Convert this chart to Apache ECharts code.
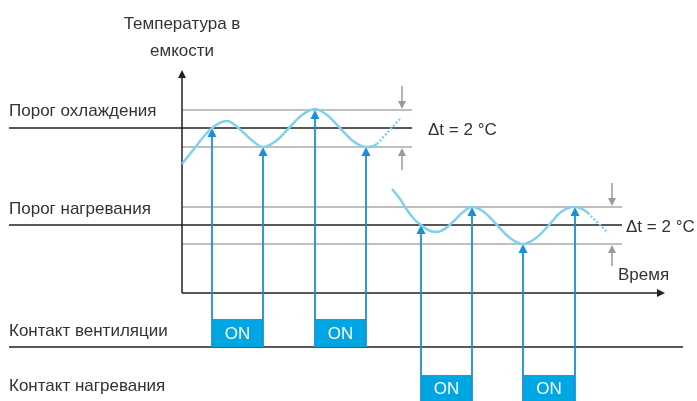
<!DOCTYPE html>
<html>
<head>
<meta charset="utf-8">
<script src="https://cdn.jsdelivr.net/npm/echarts@6/dist/echarts.min.js"></script>
<style>
  html, body { margin: 0; padding: 0; background: #fff; }
  #thermo { width: 697px; height: 401px; }
</style>
</head>
<body>
<div id="thermo"></div>
<script>
// diagram units: x = time position, y = temperature position (grows downward)
const coolWave = [[182, 164], [194, 149], [205, 135], [216, 125], [227, 121], [236, 126], [245, 134], [254, 142], [263, 147],
  [276, 141], [289, 128], [302, 115], [315, 109], [327, 115], [340, 128], [353, 141], [366, 147], [372, 146.5], [377, 144]];
const coolWaveTail = [[377, 144], [400, 119]];
const heatWave = [[392, 189], [400, 199], [407, 210], [414, 219], [421, 225], [429, 230.5], [437, 232], [446, 228], [455, 220],
  [463, 212], [472, 207], [484, 212], [497, 225], [510, 238], [523, 244], [536, 238], [549, 225], [561, 212], [574, 207],
  [581, 208.5], [588, 213]];
const heatWaveTail = [[588, 213], [608, 233]];

const thresholdLines = [[[9, 128], [412, 128]], [[9, 225], [622, 225]], [[9, 347], [683, 347]]];
const hysteresisLines = [[[182, 110], [412, 110]], [[182, 147], [412, 147]], [[182, 207], [622, 207]], [[182, 244], [622, 244]]];
const axisLines = [[[182, 293], [182, 70]], [[182, 293], [665, 293]]];
const deltaArrows = [[[402, 86], [402, 109]], [[402, 170], [402, 148]], [[612, 183], [612, 206]], [[612, 266], [612, 245]]];
const ventArrows = [[[212, 347], [212, 128]], [[263, 347], [263, 147]], [[315, 347], [315, 110]], [[366, 347], [366, 147]]];
const heatArrows = [[[421, 405], [421, 225]], [[472, 405], [472, 207]], [[523, 405], [523, 244]], [[575, 405], [575, 207]]];

// [from, to, top, bottom]
const onBoxes = [[212, 263, 319, 347], [315, 366, 319, 347], [421, 472, 375, 405], [523, 575, 375, 405]];

const labels = [
  ['Температура в', 182, 22, 'center'],
  ['емкости', 182, 49, 'center'],
  ['Порог охлаждения', 9, 109, 'left'],
  ['Порог нагревания', 9, 207, 'left'],
  ['Контакт вентиляции', 9, 329, 'left'],
  ['Контакт нагревания', 9, 384, 'left'],
  ['Время', 618, 273, 'left'],
  ['Δt = 2 °C', 428, 128, 'left'],
  ['Δt = 2 °C', 626, 225, 'left']
];

const FONT = '"Liberation Sans", Arial, sans-serif';
const chart = echarts.init(document.getElementById('thermo'));

// pull the end of each segment back so the arrow tip (not its centre) lands on the point
function segs(list, head) {
  return list.map(function (s) {
    const a = s[0], b = s[1];
    if (!head) return { coords: s };
    const dx = b[0] - a[0], dy = b[1] - a[1];
    const len = Math.sqrt(dx * dx + dy * dy);
    const k = head / 2 / len;
    return { coords: [a, [b[0] - dx * k, b[1] - dy * k]] };
  });
}

const option = {
  animation: false,
  grid: { left: 0, right: 0, top: 0, bottom: 0 },
  xAxis: { type: 'value', min: 0, max: 697, show: false },
  yAxis: { type: 'value', min: 0, max: 401, inverse: true, show: false },
  series: [
    {
      type: 'lines', coordinateSystem: 'cartesian2d', silent: true,
      lineStyle: { color: '#aaaaaa', width: 1.5, opacity: 1 },
      data: segs(hysteresisLines)
    },
    {
      type: 'lines', coordinateSystem: 'cartesian2d', silent: true,
      lineStyle: { color: '#222222', width: 1.5, opacity: 1 },
      data: segs(thresholdLines)
    },
    {
      type: 'lines', coordinateSystem: 'cartesian2d', silent: true,
      symbol: ['none', 'triangle'], symbolSize: 8,
      lineStyle: { color: '#222222', width: 1.5, opacity: 1 },
      data: segs(axisLines, 8)
    },
    {
      type: 'lines', coordinateSystem: 'cartesian2d', silent: true,
      symbol: ['none', 'triangle'], symbolSize: 8,
      lineStyle: { color: '#9a9a9a', width: 1.5, opacity: 1 },
      data: segs(deltaArrows, 8)
    },
    {
      type: 'custom', silent: true,
      data: onBoxes,
      renderItem: function (params, api) {
        const p0 = api.coord([api.value(0), api.value(2)]);
        const p1 = api.coord([api.value(1), api.value(3)]);
        const bottom = Math.min(p1[1], 401);
        return {
          type: 'group',
          children: [
            { type: 'rect', shape: { x: p0[0], y: p0[1], width: p1[0] - p0[0], height: p1[1] - p0[1] }, style: { fill: '#00a6e2' } },
            { type: 'text', style: { text: 'ON', x: (p0[0] + p1[0]) / 2, y: (p0[1] + bottom) / 2 + 1, align: 'center', verticalAlign: 'middle', fill: '#ffffff', font: '300 17px ' + FONT } }
          ]
        };
      }
    },
    {
      type: 'lines', coordinateSystem: 'cartesian2d', silent: true,
      symbol: ['none', 'triangle'], symbolSize: 9,
      lineStyle: { color: '#1a8fd8', width: 1.8, opacity: 1 },
      data: segs(ventArrows.concat(heatArrows), 9)
    },
    {
      type: 'line', data: coolWave, smooth: 0.35, showSymbol: false, silent: true,
      lineStyle: { color: '#80d1ee', width: 2.5 }
    },
    {
      type: 'line', data: coolWaveTail, showSymbol: false, silent: true,
      lineStyle: { color: '#80d1ee', width: 2.5, type: [2, 2] }
    },
    {
      type: 'line', data: heatWave, smooth: 0.35, showSymbol: false, silent: true,
      lineStyle: { color: '#80d1ee', width: 2.5 }
    },
    {
      type: 'line', data: heatWaveTail, showSymbol: false, silent: true,
      lineStyle: { color: '#80d1ee', width: 2.5, type: [2, 2] }
    },
    {
      type: 'custom', silent: true,
      data: labels.map(function (l) { return [l[1], l[2]]; }),
      renderItem: function (params, api) {
        const l = labels[params.dataIndex];
        const p = api.coord([api.value(0), api.value(1)]);
        return {
          type: 'text',
          style: { text: l[0], x: p[0], y: p[1] + 2, align: l[3], verticalAlign: 'middle', fill: '#333333', font: '17px ' + FONT }
        };
      }
    }
  ]
};

option && chart.setOption(option);
window.addEventListener('resize', function () {
  chart.resize();
});
</script>
</body>
</html>
